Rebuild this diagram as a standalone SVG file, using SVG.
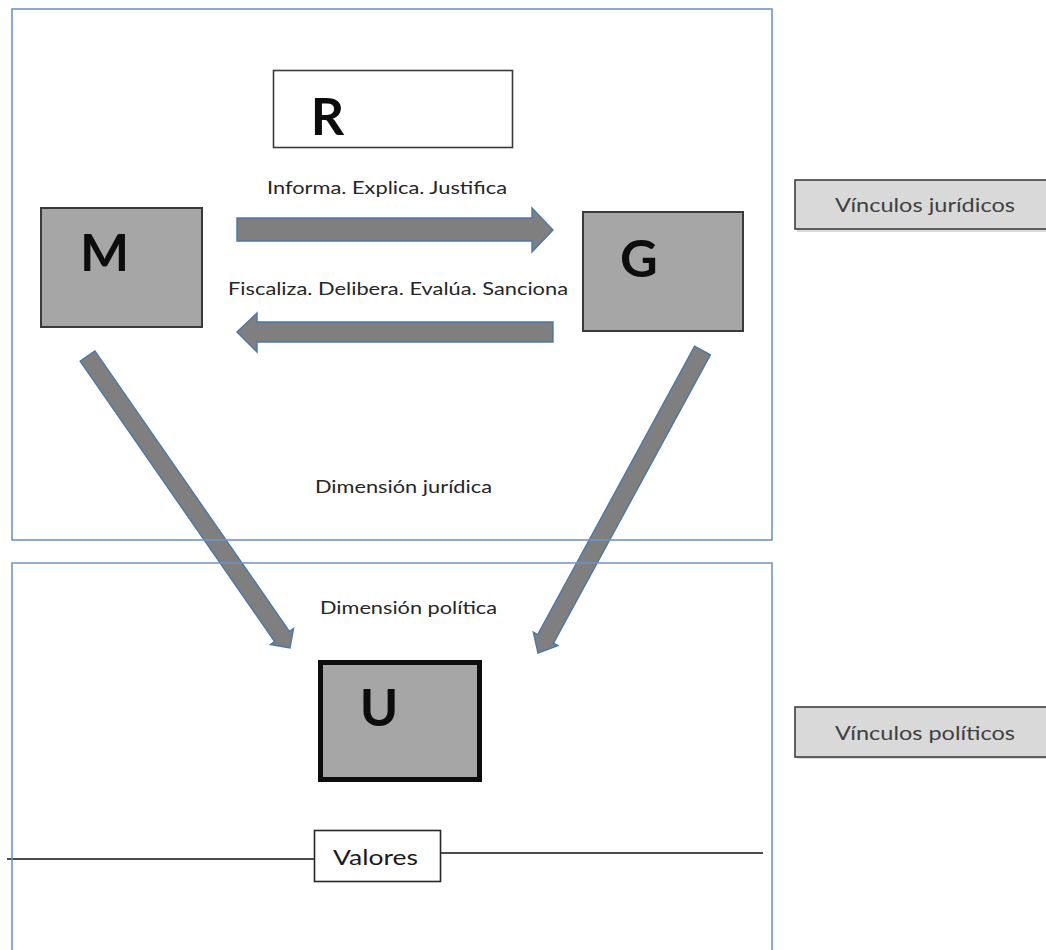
<svg xmlns="http://www.w3.org/2000/svg" width="1046" height="950" viewBox="0 0 1046 950">
<style>
.frame{fill:none;stroke:#6f95c2;stroke-width:1.6}
.arrow{fill:#7f7f7f;stroke:#4a78a8;stroke-width:1.4;stroke-linejoin:miter}
.gbox{fill:#a6a6a6;stroke:#3a3a3a;stroke-width:2}
.letter{font-family:Lato,"Open Sans",sans-serif;font-weight:700;font-size:52px;fill:#0d0d0d;text-anchor:middle}
.lbl{font-family:Lato,"Open Sans",sans-serif;font-size:18px;fill:#262626}
.tag{fill:#d9d9d9;stroke:#3f3f3f;stroke-width:1.6}
.tagsh{fill:#bfbfbf;opacity:0.6}
.tagtxt{font-family:Lato,"Open Sans",sans-serif;font-size:19px;fill:#404040}
.line{stroke:#111;stroke-width:1.5;fill:none}
</style>
<rect width="1046" height="950" fill="#fff"/>

<g id="R">
<rect x="273.5" y="70.5" width="239" height="77" fill="#fff" stroke="#3a3a3a" stroke-width="1.6"/>
<text class="letter" x="327.5" y="135">R</text>
</g>
<g id="M">
<rect class="gbox" x="41" y="208" width="161" height="119"/>
<text class="letter" x="104.5" y="271">M</text>
</g>
<g id="G">
<rect class="gbox" x="583" y="212" width="160" height="119"/>
<text class="letter" x="639" y="277">G</text>
</g>
<g id="U">
<rect x="320.5" y="662.5" width="159" height="117" fill="#a6a6a6" stroke="#0d0d0d" stroke-width="5"/>
<text class="letter" x="379" y="726">U</text>
</g>

<g id="connectors">
<polygon class="arrow" points="237,218 532,218 532,208 553,230 532,252 532,241 237,241"/>
<polygon class="arrow" points="553,322 257,322 257,313 237,332 257,352 257,342 553,342"/>
<polygon class="arrow" points="80.1,361.1 274.6,641.6 270.5,644.5 290,648 293.5,628.5 289.4,631.4 94.9,350.9"/>
<polygon class="arrow" points="710.4,354.8 553.5,643.2 557.9,645.6 538,653 533.3,632.2 537.7,634.6 694.6,346.2"/>
<line class="line" x1="7" y1="859" x2="314" y2="859"/>
<line class="line" x1="441" y1="853" x2="763" y2="853"/>
</g>

<g id="dim-juridica">
<rect class="frame" x="12" y="9" width="760" height="531"/>
<text class="lbl" x="315" y="493" textLength="177" lengthAdjust="spacingAndGlyphs">Dimensión jurídica</text>
</g>
<g id="dim-politica">
<path class="frame" d="M12,952 L12,563 L772,563 L772,952"/>
<text class="lbl" x="320" y="614" textLength="177" lengthAdjust="spacingAndGlyphs">Dimensión política</text>
</g>

<g id="labels">
<text class="lbl" x="267" y="194" textLength="240" lengthAdjust="spacingAndGlyphs">Informa. Explica. Justifica</text>
<text class="lbl" x="228" y="295" textLength="340" lengthAdjust="spacingAndGlyphs">Fiscaliza. Delibera. Evalúa. Sanciona</text>
</g>

<g id="valores">
<rect x="314.5" y="830.5" width="126" height="51" fill="#fff" stroke="#262626" stroke-width="1.6"/>
<text x="333" y="865" font-family="Lato,'Open Sans',sans-serif" font-size="22" fill="#1a1a1a" textLength="85" lengthAdjust="spacingAndGlyphs">Valores</text>
</g>

<g id="vinculos-juridicos">
<rect class="tagsh" x="797" y="182" width="252" height="50"/>
<rect class="tag" x="795" y="180" width="252" height="49"/>
<text class="tagtxt" x="835" y="212" textLength="180" lengthAdjust="spacingAndGlyphs">Vínculos jurídicos</text>
</g>
<g id="vinculos-politicos">
<rect class="tagsh" x="797" y="709" width="252" height="50"/>
<rect class="tag" x="795" y="707" width="252" height="50"/>
<text class="tagtxt" x="835" y="740" textLength="180" lengthAdjust="spacingAndGlyphs">Vínculos políticos</text>
</g>
</svg>
